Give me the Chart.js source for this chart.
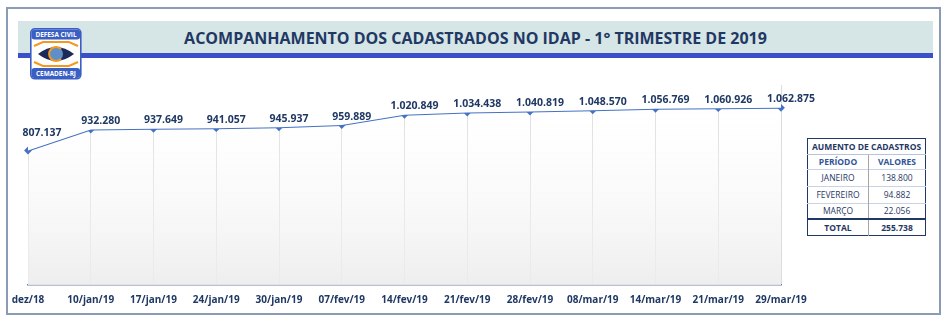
<!DOCTYPE html>
<html lang="pt-BR">
<head>
<meta charset="utf-8">
<title>Acompanhamento dos cadastrados no IDAP</title>
<script src="https://cdn.jsdelivr.net/npm/chart.js@4.4.1/dist/chart.umd.min.js"></script>
<style>
  html, body { margin: 0; padding: 0; background: #fff; }
  body { width: 951px; height: 322px; position: relative; overflow: hidden; font-family: "Open Sans", sans-serif; }
  .frame { position: absolute; left: 6px; top: 7px; width: 935px; height: 308px; border: 2px solid #8a9bb5; box-sizing: border-box; }
  .band { position: absolute; left: 18px; top: 21px; width: 915px; height: 32px; background: #d6e5e5; }
  .bandline { position: absolute; left: 18px; top: 53px; width: 915px; height: 5px; background: #3b4fc9; }
  .title { position: absolute; left: 0; width: 951px; top: 27px; text-align: center; font-weight: 700; font-size: 16px; color: #1f3864; }
  .logo { position: absolute; left: 30px; top: 28px; }
  #wrap { position: absolute; left: 0; top: 0; width: 951px; height: 322px; }
  table.resumo { position: absolute; left: 807px; top: 138px; width: 119px; border-collapse: collapse; border: 1.5px solid #1f3864; font-size: 8.5px; color: #1f3864; text-align: center; background: #fff; }
  table.resumo td { padding: 0; line-height: 12px; }
  table.resumo .h1 td { font-weight: 700; height: 15px; border-bottom: 1px solid #b8c4dc; }
  table.resumo .h2 td { font-weight: 700; color: #2f5597; height: 14px; }
  table.resumo .r td { height: 16px; border-top: 1px solid #c9d3e6; }
  table.resumo .r.m td { height: 14px; }
  table.resumo .t td { font-weight: 700; height: 15px; border-top: 2px solid #1f3864; }
  table.resumo td.c1 { width: 60px; border-right: 1px solid #a6a6a6; }
</style>
</head>
<body>
<div class="frame"></div>
<div class="band"></div>
<div class="bandline"></div>
<div class="title">ACOMPANHAMENTO DOS CADASTRADOS NO IDAP - 1° TRIMESTRE DE 2019</div>
<svg class="logo" width="52" height="52" viewBox="0 0 52 52">
  <rect x="0.8" y="0.8" width="50" height="50" rx="4" fill="#ffffff" stroke="#3a5fc4" stroke-width="1.6"/>
  <rect x="1.5" y="1.5" width="48.6" height="10" rx="3" fill="#3a5fc4"/>
  <rect x="1.5" y="40" width="48.6" height="10" rx="3" fill="#3a5fc4"/>
  <text x="26" y="9" text-anchor="middle" font-family="Open Sans" font-weight="700" font-size="6.4" fill="#ffffff">DEFESA CIVIL</text>
  <text x="26" y="48" text-anchor="middle" font-family="Open Sans" font-weight="700" font-size="6.4" fill="#ffffff">CEMADEN-RJ</text>
  <path d="M4 18 L13 14 L39 14 L48 18 M4 34 L13 38 L39 38 L48 34" fill="none" stroke="#f39a1e" stroke-width="2.2"/>
  <path d="M8 26 Q26 12 44 26 Q26 40 8 26 Z" fill="#1c2a5a"/>
  <circle cx="26" cy="26" r="7" fill="#5f8fc8"/>
  <path d="M31 21 A7 7 0 1 0 31 31" fill="none" stroke="#f39a1e" stroke-width="2"/>
</svg>
<div id="wrap"><canvas id="grafico"></canvas></div>
<table class="resumo">
  <tr class="h1"><td colspan="2">AUMENTO DE CADASTROS</td></tr>
  <tr class="h2"><td class="c1">PERÍODO</td><td>VALORES</td></tr>
  <tr class="r"><td class="c1">JANEIRO</td><td>138.800</td></tr>
  <tr class="r"><td class="c1">FEVEREIRO</td><td>94.882</td></tr>
  <tr class="r m"><td class="c1">MARÇO</td><td>22.056</td></tr>
  <tr class="t"><td class="c1">TOTAL</td><td>255.738</td></tr>
</table>
<script>
// Dados do gráfico
const datas = [
  "dez/18", "10/jan/19", "17/jan/19", "24/jan/19", "30/jan/19", "07/fev/19",
  "14/fev/19", "21/fev/19", "28/fev/19", "08/mar/19", "14/mar/19", "21/mar/19", "29/mar/19"
];
const cadastrados = [
  807137, 932280, 937649, 941057, 945937, 959889,
  1020849, 1034438, 1040819, 1048570, 1056769, 1060926, 1062875
];
const escalaMin = 0;
const escalaMax = 1200000;

// Formato brasileiro 1.234.567
const formatarNumero = (n) => String(n).replace(/\B(?=(\d{3})+(?!\d))/g, ".");

// Rótulos acima dos pontos (levemente à direita, como no Excel)
const rotulosPlugin = {
  id: "rotulos",
  afterDatasetsDraw(chart) {
    const ctx = chart.ctx;
    const meta = chart.getDatasetMeta(1);
    ctx.save();
    ctx.font = "700 10.5px 'Open Sans'";
    ctx.fillStyle = "#1f3864";
    ctx.textAlign = "center";
    ctx.textBaseline = "middle";
    meta.data.forEach((pt, i) => {
      const lift = i === 0 ? 17 : 8.5;
      const shift = i === 0 ? 14 : 10;
      ctx.fillText(formatarNumero(cadastrados[i]), pt.x + shift, pt.y - lift);
    });
    ctx.restore();
  },
};

const ctx = document.getElementById("grafico").getContext("2d");
new Chart(ctx, {
  type: "line",
  data: {
    labels: datas,
    datasets: [
      {
        // cobre a grade acima da linha
        data: cadastrados,
        fill: "end",
        backgroundColor: "#ffffff",
        borderWidth: 0,
        pointRadius: 0,
        tension: 0,
      },
      {
        data: cadastrados,
        fill: "origin",
        backgroundColor: (c) => {
          const area = c.chart.chartArea;
          if (!area) return "rgba(240,240,240,0.6)";
          const g = c.chart.ctx.createLinearGradient(0, area.top, 0, area.bottom);
          g.addColorStop(0, "rgba(255,255,255,0.0)");
          g.addColorStop(1, "rgba(236,236,236,0.9)");
          return g;
        },
        borderColor: "#4472c4",
        borderWidth: 2,
        pointRadius: 2.5,
        pointBackgroundColor: "#4472c4",
        pointBorderColor: "#4472c4",
        pointStyle: "rectRot",
        tension: 0,
      },
    ],
  },
  options: {
    responsive: true,
    maintainAspectRatio: false,
    animation: false,
    layout: { padding: { left: 28, right: 170, top: 85, bottom: 13 } },
    plugins: { legend: { display: false }, tooltip: { enabled: false } },
    scales: {
      x: {
        offset: false,
        grid: { color: "#dcdcdc", lineWidth: 1, drawTicks: false },
        border: { color: "#6a83b6", width: 1.5 },
        ticks: {
          color: "#1f3864",
          font: { family: "'Open Sans'", size: 10, weight: "700" },
          padding: 9,
          maxRotation: 0,
          autoSkip: false,
        },
        afterFit: (s) => { s.height = 24; },
      },
      y: {
        display: false,
        min: escalaMin,
        max: escalaMax,
      },
    },
  },
  plugins: [rotulosPlugin],
});
</script>
</body>
</html>
